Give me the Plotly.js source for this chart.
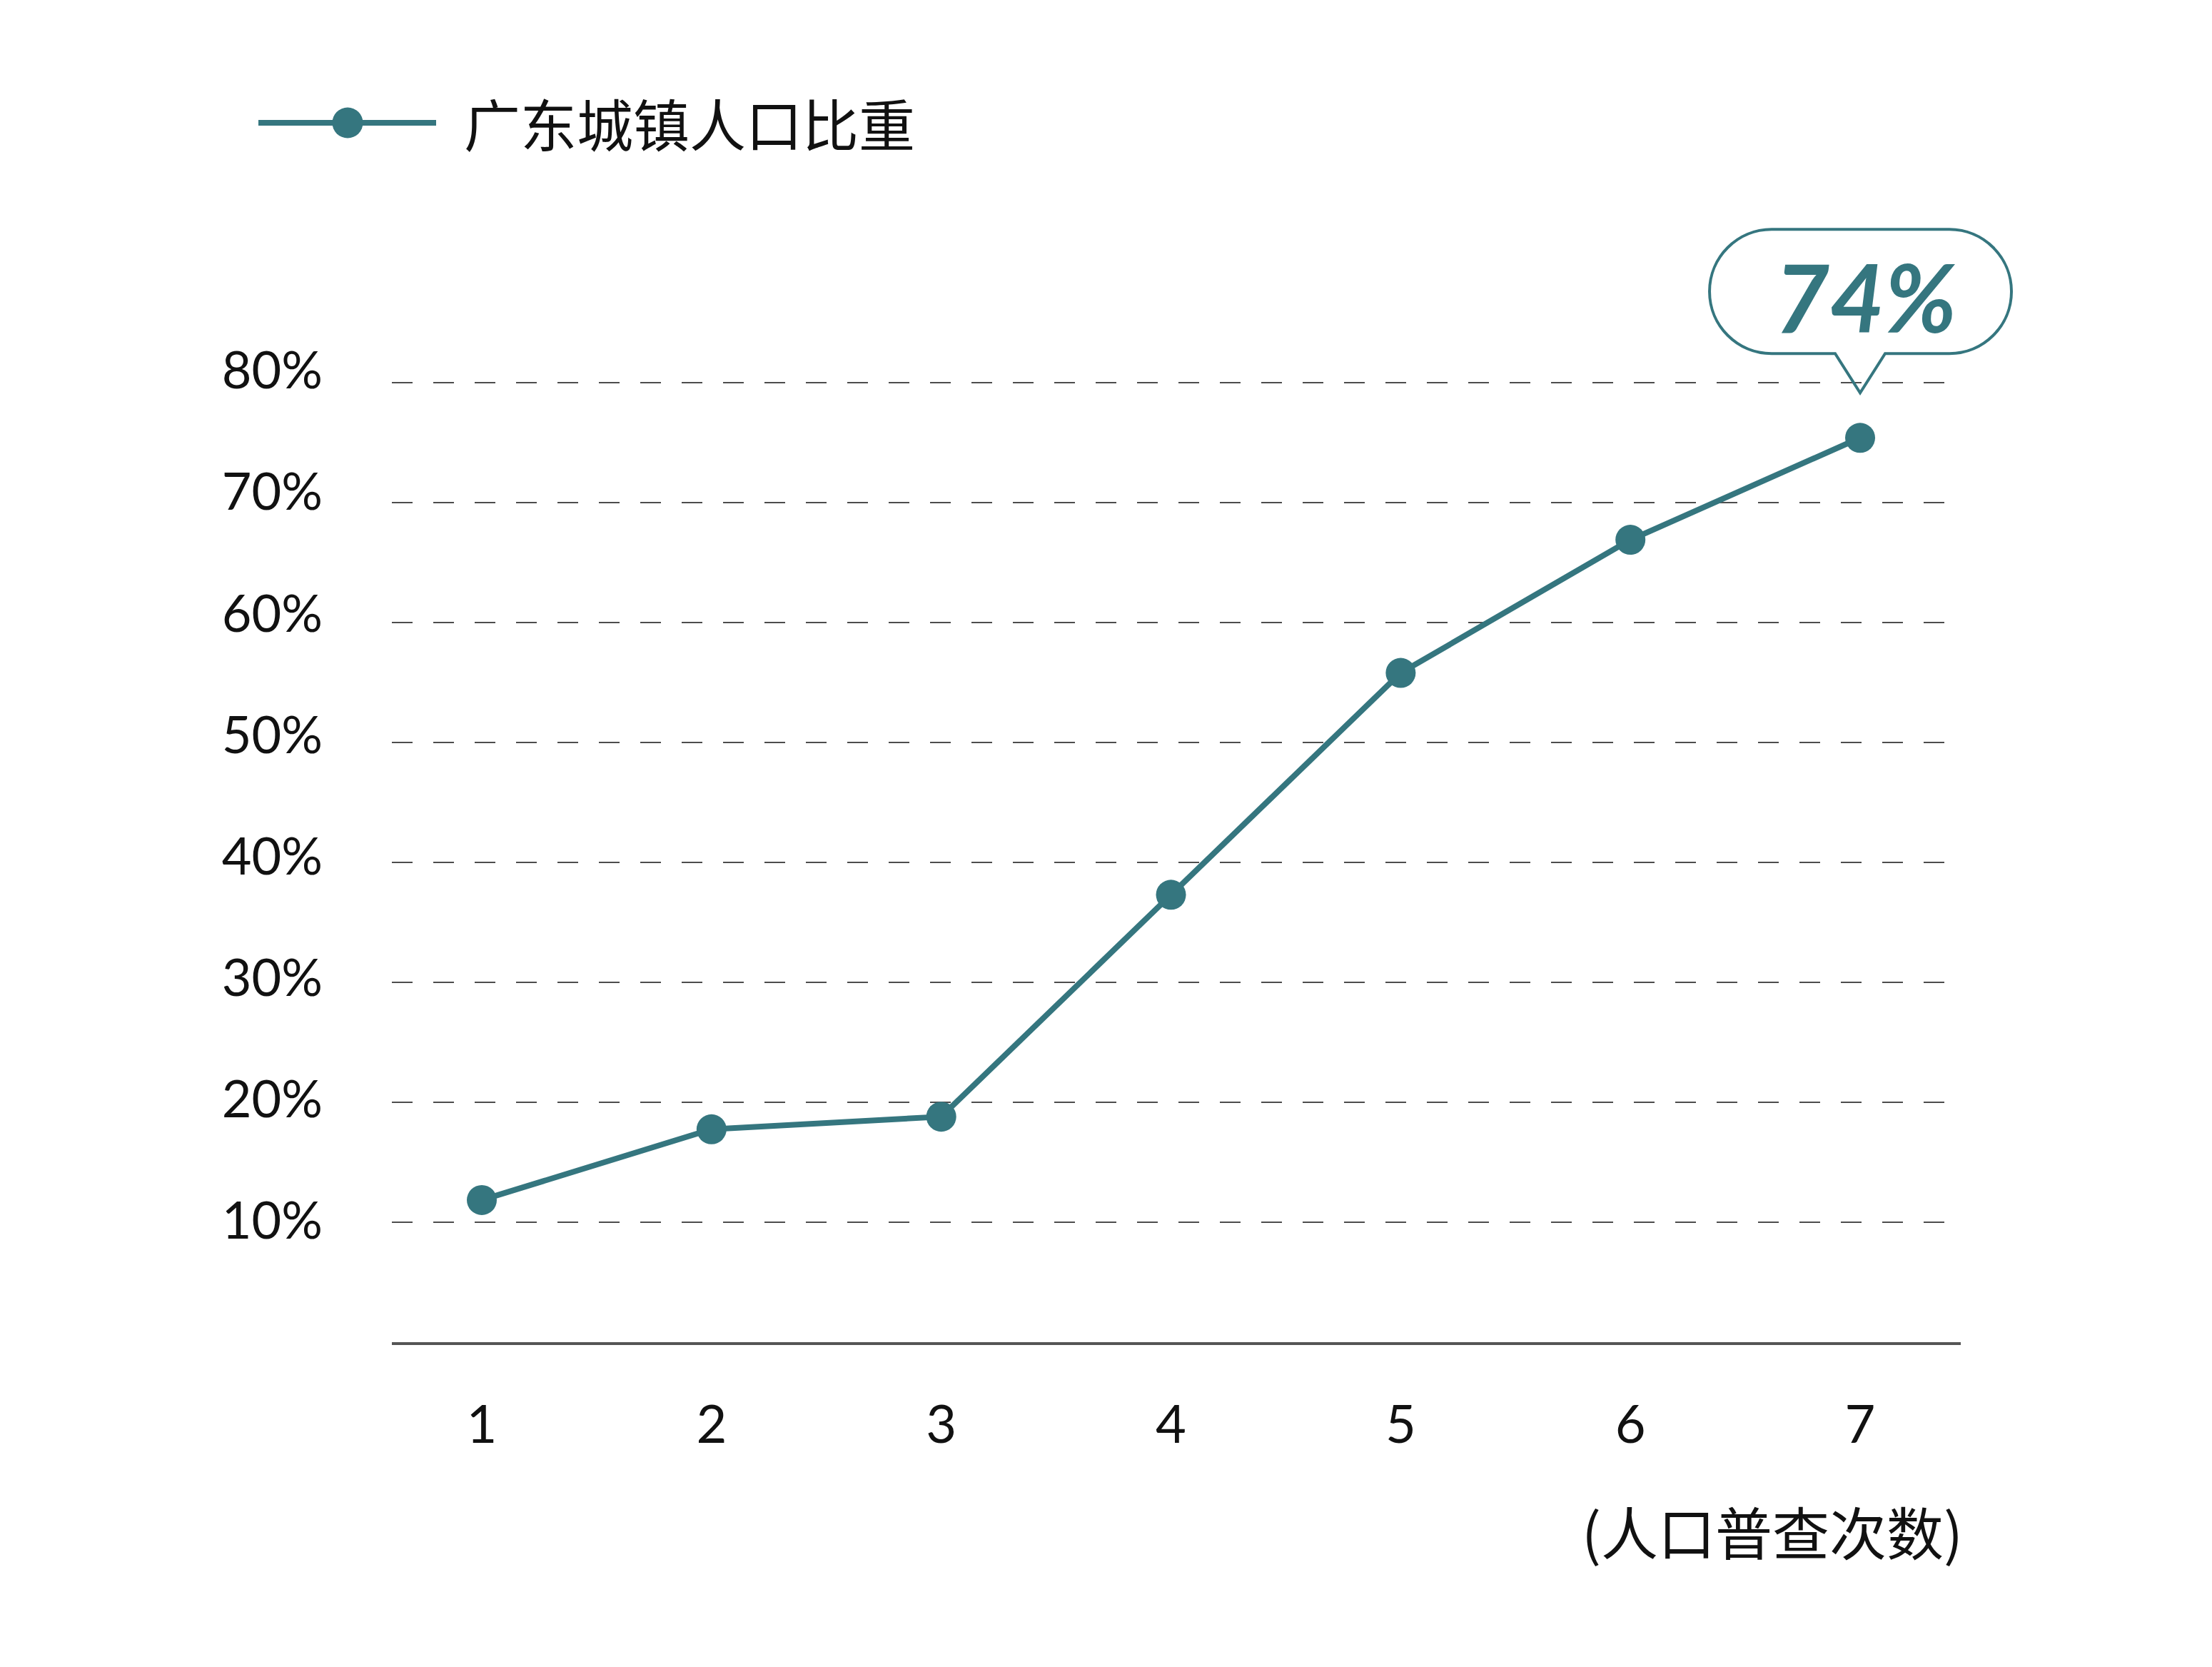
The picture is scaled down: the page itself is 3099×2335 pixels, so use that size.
<!DOCTYPE html>
<html><head><meta charset="utf-8">
<script src="https://cdn.plot.ly/plotly-3.0.1.min.js"></script>
<style>html,body{margin:0;padding:0;background:#fff;} #chart{width:3099px;height:2335px;}</style>
</head><body><div id="chart"></div>
<script>
// ---- data ----
const censusRounds = [1, 2, 3, 4, 5, 6, 7];
const xTickLabels = ['1', '2', '3', '4', '5', '6', '7'];
const urbanShare = [11.85, 17.75, 18.8, 37.3, 55.8, 66.9, 75.4];
const seriesName = '广东城镇人口比重';
const yTickValues = [10, 20, 30, 40, 50, 60, 70, 80];
const yTickLabels = ['10%', '20%', '30%', '40%', '50%', '60%', '70%', '80%'];
const xAxisLabel = '(人口普查次数)';
const calloutText = '74%';
const calloutIndex = 6;

// ---- layout helpers ----
const W = 3099, H = 2335;
const M = {l: 549, r: 352, t: 300, b: 455};
const PW = W - M.l - M.r, PH = H - M.t - M.b;
const px = x => (x - M.l) / PW;
const py = y => (H - M.b - y) / PH;
const X_RANGE = [0.6085, 7.438];
const Y_RANGE = [0, PH / 16.8];
const Y2_RANGE = [0, (PH - 1) / 17.0];
const dataToPaperX = v => (v - X_RANGE[0]) / (X_RANGE[1] - X_RANGE[0]);
const dataToPaperY = v => (v - Y_RANGE[0]) / (Y_RANGE[1] - Y_RANGE[0]);

const TEAL = '#35767f';
const FONT_LAT = 'Lato, "Noto Sans", sans-serif';
const FONT_CJK = '"Noto Sans CJK SC", "Noto Sans", sans-serif';

const trace = {
  x: censusRounds, y: urbanShare, type: 'scatter', mode: 'lines+markers',
  name: seriesName, showlegend: false, cliponaxis: false,
  line: {color: TEAL, width: 8},
  marker: {color: TEAL, size: 42}
};

// callout bubble path (pixels relative to the anchored data point, y up)
const bubble = 'M -124,292 L 125,292 C 173,292 212,253 212,205 C 212,157 173,118 125,118 ' +
  'L 35,118 L 0,63 L -35,118 L -124,118 C -172,118 -211,157 -211,205 C -211,253 -172,292 -124,292 Z';

const layout = {
  width: W, height: H, margin: M,
  paper_bgcolor: '#ffffff', plot_bgcolor: '#ffffff',
  showlegend: false,
  xaxis: {
    range: X_RANGE, tickmode: 'array', tickvals: censusRounds, ticktext: xTickLabels,
    showgrid: false, zeroline: false, showline: true, linecolor: '#555555', linewidth: 4,
    ticks: '', ticklabelstandoff: 48,
    tickfont: {family: FONT_LAT, size: 74, color: '#111111'}, fixedrange: true
  },
  yaxis: {
    range: Y_RANGE, tickmode: 'array', tickvals: yTickValues, showticklabels: false,
    showgrid: true, gridcolor: '#4d4d4d', gridwidth: 2, griddash: '29px,29px',
    zeroline: false, showline: false, ticks: '', fixedrange: true
  },
  yaxis2: {
    overlaying: 'y', side: 'left', anchor: 'x', range: Y2_RANGE, tickmode: 'array',
    tickvals: yTickValues, ticktext: yTickLabels,
    showgrid: false, zeroline: false, showline: false, ticks: '',
    ticklabelstandoff: 96, tickfont: {family: FONT_LAT, size: 72, color: '#111111'}, fixedrange: true
  },
  shapes: [
    {type: 'line', xref: 'paper', yref: 'paper', x0: px(362), x1: px(611), y0: py(172), y1: py(172),
     line: {color: TEAL, width: 8}},
    {type: 'circle', xref: 'paper', yref: 'paper', x0: px(465.5), x1: px(508.5), y0: py(193.5), y1: py(150.5),
     fillcolor: TEAL, line: {width: 0}},
    {type: 'path', xref: 'paper', yref: 'paper', xsizemode: 'pixel', ysizemode: 'pixel',
     xanchor: dataToPaperX(censusRounds[calloutIndex]), yanchor: dataToPaperY(urbanShare[calloutIndex]),
     path: bubble, fillcolor: 'rgba(0,0,0,0)', line: {color: TEAL, width: 4}, layer: 'above'}
  ],
  annotations: [
    {xref: 'paper', yref: 'paper', x: px(648), y: py(171), xanchor: 'left', yanchor: 'middle',
     text: seriesName, showarrow: false, font: {family: FONT_CJK, size: 79, color: '#111111'}},
    {xref: 'paper', yref: 'paper', x: px(2752), y: py(2143), xanchor: 'right', yanchor: 'middle',
     text: xAxisLabel, showarrow: false, font: {family: FONT_CJK, size: 80, color: '#111111'}},
    {xref: 'x', yref: 'y', x: censusRounds[calloutIndex], y: urbanShare[calloutIndex],
     xshift: 8, yshift: 199, xanchor: 'center', yanchor: 'middle', showarrow: false, text: calloutText,
     font: {family: FONT_LAT, size: 133, color: TEAL, weight: 'bold', style: 'italic'}}
  ]
};

// invisible companion trace so the label axis is bound to the plot
const labelTrace = {x: censusRounds, y: urbanShare, yaxis: 'y2', type: 'scatter', mode: 'none',
  showlegend: false, hoverinfo: 'skip'};

Plotly.newPlot('chart', [labelTrace, trace], layout, {staticPlot: true, displayModeBar: false});
</script>
</body></html>
